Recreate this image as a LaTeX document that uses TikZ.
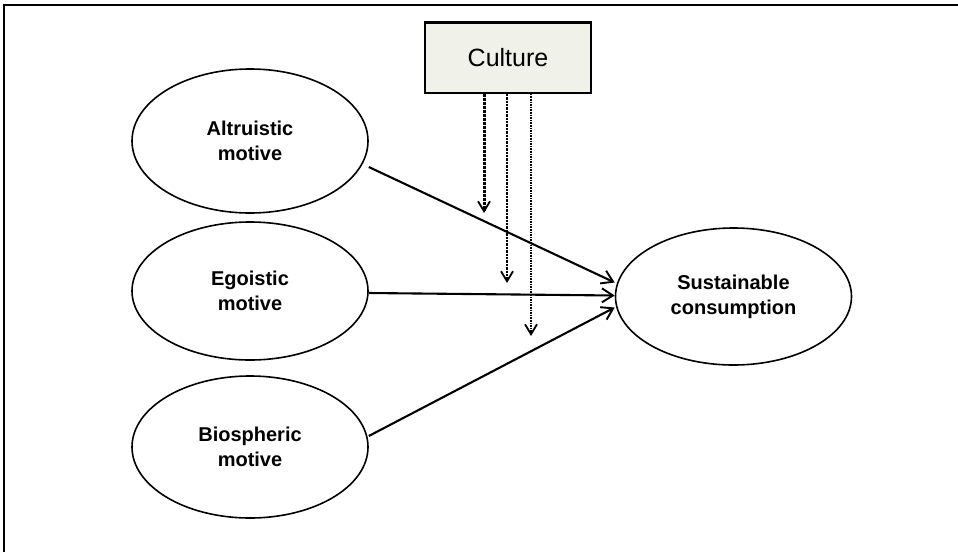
\documentclass[tikz,border=0pt]{standalone}
\usepackage{fontspec}
\setmainfont{Liberation Sans}
\usetikzlibrary{arrows.meta,shapes.geometric}

\definecolor{boxfill}{HTML}{F0F2EA}

\tikzset{
  motive/.style={ellipse, draw=black, line width=1.6pt, minimum width=236pt,
    minimum height=144pt, inner sep=0pt, align=center,
    font=\bfseries\fontsize{20}{25}\selectfont},
  culturebox/.style={rectangle, draw=black, line width=1.5pt, fill=boxfill,
    minimum width=166pt, minimum height=70pt, inner sep=0pt,
    font=\fontsize{25}{30}\selectfont},
  effect/.style={line width=2.1pt, -{Straight Barb[length=11pt,width=14pt,line width=1.9pt]}},
  moderation/.style={densely dotted, -{Straight Barb[length=10pt,width=12pt,line width=1.8pt]}},
}

\begin{document}
\begin{tikzpicture}[x=1pt,y=-1pt]
  \useasboundingbox (0,0) rectangle (958,552);

  % outer frame (left and top edges)
  \draw[line width=2.2pt] (4,552) -- (4,5) -- (958,5);

  % moderator
  \node[culturebox] (cul) at (508,58) {Culture};
  \draw[line width=2.4pt] (cul.north west) -- (cul.north east);

  % motives and outcome
  \node[motive] (alt) at (250,141) {Altruistic\\motive};
  \node[motive, minimum height=138pt] (ego) at (250,291) {Egoistic\\motive};
  \node[motive, minimum height=142pt] (bio) at (250,447) {Biospheric\\motive};
  \node[motive, minimum height=137pt] (sus) at (733.5,296.5) {Sustainable\\consumption};

  % direct effects
  \draw[effect] ([yshift=-26pt]alt.east) -- ([yshift=14pt]sus.west);
  \draw[effect] ([yshift=-2pt]ego.east) -- ([yshift=1pt]sus.west);
  \draw[effect] ([yshift=11pt]bio.east) -- ([yshift=-11pt]sus.west);

  % moderating effects of culture
  \coordinate (m1) at (484,213);
  \coordinate (m2) at (507,283);
  \coordinate (m3) at (531,336);
  \draw[moderation, line width=3pt] ([xshift=-24pt]cul.south) -- (m1);
  \draw[moderation, line width=2.4pt] ([xshift=-1pt]cul.south) -- (m2);
  \draw[moderation, line width=1.6pt] ([xshift=23pt]cul.south) -- (m3);
\end{tikzpicture}
\end{document}
